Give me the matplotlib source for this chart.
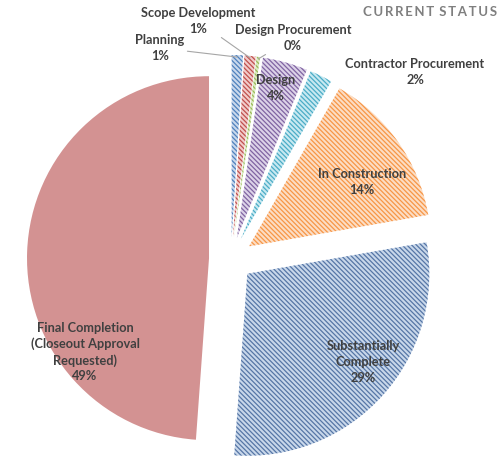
import matplotlib
matplotlib.use("Agg")
import matplotlib.pyplot as plt
import numpy as np

# Data
stages = ["Planning", "Scope Development", "Design Procurement", "Design",
          "Contractor Procurement", "In Construction",
          "Substantially\nComplete", "Final Completion\n(Closeout Approval\nRequested)"]
shares = [1, 1, 0.3, 4, 2, 14, 29, 49]

face_colors  = ["#C9D8EC", "#F1CBCA", "#DDEBC4", "#DCD2E8", "#C8E9F1", "#FCDDC4", "#C8D7EA", "#D39292"]
hatch_colors = ["#4F81BD", "#C0504D", "#9BBB59", "#8064A2", "#4BACC6", "#F79646", "#5676A6", "#D39292"]

plt.rcParams["hatch.linewidth"] = 0.9
TXT = "#404040"
FONT = ["Lato", "DejaVu Sans"]

fig = plt.figure(figsize=(5.04, 4.58), dpi=100)
ax = fig.add_axes([0, 0, 1, 1])

cx, cy, R = 231, 199, 182
explode = [22] * len(shares)
wedges, _ = ax.pie(shares, center=(cx, cy), radius=R, startangle=90, counterclock=False,
                   explode=explode, colors=face_colors, frame=True)
ax.set_xlim(0, 504); ax.set_ylim(0, 458)
ax.set_aspect("equal")
ax.axis("off")

for w, hc in zip(wedges, hatch_colors):
    w.set_edgecolor(hc)
    w.set_linewidth(0)
    if hc != "#D39292":
        w.set_hatch("\\" * 7)

def wedge_point(i, frac):
    w = wedges[i]
    mid = np.deg2rad((w.theta1 + w.theta2) / 2)
    x0, y0 = w.center
    return x0 + frac * R * np.cos(mid), y0 + frac * R * np.sin(mid)

pct = [f"{s:.0f}%" for s in shares]
kw = dict(ha="center", va="center", fontsize=9.2, fontweight="bold", color=TXT,
          family=FONT, linespacing=1.35)

# labels inside slices
inside = {3: (276, 370), 5: (362, 276), 6: (363, 96), 7: (85, 106)}
for i, (tx, ty) in inside.items():
    ax.text(tx, ty, f"{stages[i]}\n{pct[i]}", **kw)

# outside labels with leader lines
line_kw = dict(arrowstyle="-", color="#A6A6A6", lw=0.8, shrinkA=0, shrinkB=0)
outside = {0: (160, 410), 1: (198, 437), 2: (293, 420), 4: (415, 386)}
for i, (tx, ty) in outside.items():
    x, y = wedge_point(i, 1.0)
    if i == 4:
        ax.text(tx, ty, f"{stages[i]}\n{pct[i]}", **kw)
        continue
    ax.annotate(f"{stages[i]}\n{pct[i]}", xy=(x, y - 2), xytext=(tx, ty),
                arrowprops=line_kw, **kw)

title = "\u2009".join("CURRENT STATUS").replace("\u2009 \u2009", "\u2009\u2009\u2009")
ax.text(497, 446, title, ha="right", va="center",
        fontsize=9.5, fontweight="bold", color="#7F7F7F", family=FONT)

fig.savefig("out.png", dpi=100)
